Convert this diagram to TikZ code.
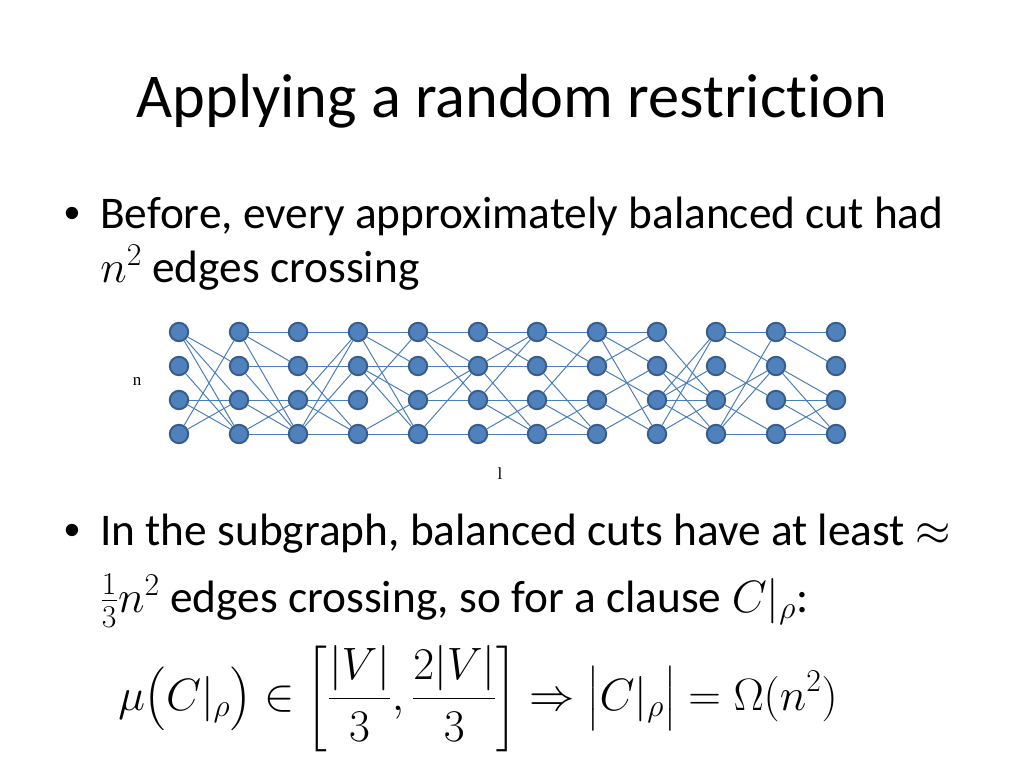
\RequirePackage{fix-cm}
\documentclass[tikz,border=0pt]{standalone}
\usepackage{amsmath}
\usepackage{fontspec}
\setmainfont{Carlito}[Ligatures=NoCommon]
\newfontfamily\labelfont{Liberation Serif}
\newfontfamily\bulletfont{Liberation Sans}
\usetikzlibrary{backgrounds}
\definecolor{nodeblue}{RGB}{79,129,189}
\definecolor{nodeline}{RGB}{56,93,138}
\definecolor{edgeblue}{RGB}{74,126,187}
\tikzset{
  vertex/.style={circle, fill=nodeblue, draw=nodeline, line width=1.4pt, minimum size=13pt, inner sep=0pt},
  edge/.style={edgeblue, line width=0.7pt},
  titletext/.style={font=\fontsize{44}{53}\selectfont, anchor=base, inner sep=0pt},
  bodytext/.style={font=\fontsize{32}{38}\selectfont, anchor=base west, inner sep=0pt},
  bulletmark/.style={font=\bulletfont\fontsize{32}{38}\selectfont, anchor=base west, inner sep=0pt},
  dimlabel/.style={font=\labelfont\fontsize{12}{14}\selectfont, inner sep=0pt}
}

\begin{document}
\begin{tikzpicture}[x=0.009765625in, y=-0.009765625in]
        \useasboundingbox (0,0) rectangle (1024,768);
        % Title
        \node[titletext] (title) at (512,118) {Applying a random restriction};
        % First bullet
        \node[bulletmark] (dot1) at (64,228) {•};
        \node[bodytext] (line1a) at (100,228) {Before, every approximately balanced cut had};
        \node[bodytext] (line1b) at (100,282) {$n^2$ edges crossing};
        % Nodes
        \foreach \c/\x in {1/179,2/239,3/298,4/358,5/418,6/478,7/537,8/597,9/657,10/716,11/776,12/836}
          \foreach \r/\y in {1/332,2/366,3/400,4/434}
            \node[vertex] (v\c-\r) at (\x,\y) {};
        % Edges between neighbouring columns
        \begin{scope}[on background layer]
          \foreach \a/\b in {1/2,1/3,1/4,2/4,3/3,3/4,4/1,4/3} \draw[edge] (v1-\a) -- (v2-\b);
          \foreach \a/\b in {1/1,1/2,1/4,2/2,2/4,3/3,3/4,4/3,4/4} \draw[edge] (v2-\a) -- (v3-\b);
          \foreach \a/\b in {1/1,2/2,2/4,3/1,3/3,3/4,4/1,4/2,4/4} \draw[edge] (v3-\a) -- (v4-\b);
          \foreach \a/\b in {1/1,1/2,1/4,2/2,2/3,2/4,3/1,4/3,4/4} \draw[edge] (v4-\a) -- (v5-\b);
          \foreach \a/\b in {1/1,1/2,1/3,2/2,3/2,3/3,4/2,4/4} \draw[edge] (v5-\a) -- (v6-\b);
          \foreach \a/\b in {1/1,1/2,2/1,2/2,2/4,3/1,3/3,3/4,4/3,4/4} \draw[edge] (v6-\a) -- (v7-\b);
          \foreach \a/\b in {1/1,1/2,2/2,2/4,3/1,3/3,3/4,4/3,4/4} \draw[edge] (v7-\a) -- (v8-\b);
          \foreach \a/\b in {1/1,1/2,1/4,2/1,2/3,3/2,3/4,4/3} \draw[edge] (v8-\a) -- (v9-\b);
          \foreach \a/\b in {1/3,2/3,2/4,3/1,3/2,3/3,3/4,4/1,4/3} \draw[edge] (v9-\a) -- (v10-\b);
          \foreach \a/\b in {1/1,1/2,2/3,3/2,3/4,4/1,4/2,4/4} \draw[edge] (v10-\a) -- (v11-\b);
          \foreach \a/\b in {1/1,1/2,2/3,2/4,3/3,3/4,4/3,4/4} \draw[edge] (v11-\a) -- (v12-\b);
        \end{scope}
        % Size labels
        \node[dimlabel] (nlabel) at (137,381) {n};
        \node[dimlabel] (llabel) at (500,474) {l};
        % Second bullet
        \node[bulletmark] (dot2) at (64,545) {•};
        \node[bodytext] (line2a) at (100,545) {In the subgraph, balanced cuts have at least $\approx$};
        \node[bodytext] (line2b) at (100,612) {$\frac{1}{3}n^2$ edges crossing, so for a clause $C|_\rho$:};
        % Formula
        \node[bodytext] (formula) at (118,710) {$\displaystyle \mu\bigl(C|_\rho\bigr) \in \left[\frac{|V|}{3},\frac{2|V|}{3}\right] \Rightarrow \bigl|C|_\rho\bigr| = \Omega(n^2)$};
\end{tikzpicture}
\end{document}
